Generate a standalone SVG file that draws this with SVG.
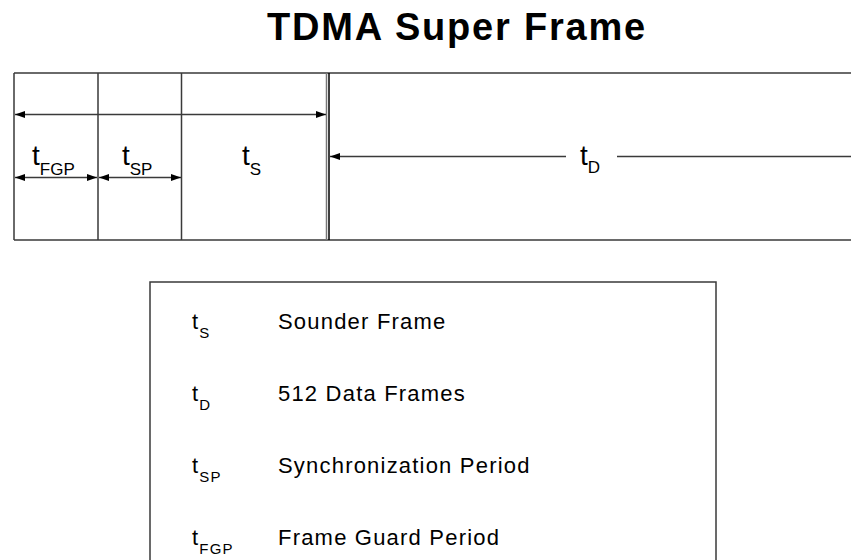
<svg xmlns="http://www.w3.org/2000/svg" width="851" height="560" viewBox="0 0 851 560">
<style>
.ln{stroke:#3a3a3a;stroke-width:1.5;fill:none}
.ar{stroke:#3a3a3a;stroke-width:1.3;fill:none}
.title{font-family:"Liberation Sans",Arial,sans-serif;font-weight:bold;font-size:38px;letter-spacing:1.8px;fill:#000}
.tl{font-family:"Liberation Sans",Arial,sans-serif;font-size:28px;fill:#000}
.ts{font-size:17px}
.lg{font-family:"Liberation Sans",Arial,sans-serif;font-size:22px;letter-spacing:1.2px;fill:#000}
.lgs{font-size:15px}
</style>
<defs>
<marker id="ah" viewBox="0 0 10 7" refX="10" refY="3.5" markerWidth="10" markerHeight="7" markerUnits="userSpaceOnUse" orient="auto-start-reverse">
<path d="M0,0 L10,3.5 L0,7 Z" fill="#000"/>
</marker>
</defs>
<rect width="851" height="560" fill="#fff"/>
<text class="title" x="457" y="40" text-anchor="middle">TDMA Super Frame</text>

<g id="frame">
<path class="ln" d="M14,73 H851 M14,240 H851 M14,73 V240 M98,73 V240 M181.5,73 V240"/>
<path d="M326.5,73 V240" stroke="#777" stroke-width="1.5"/>
<path d="M329,73 V240" stroke="#000" stroke-width="1.5"/>
</g>

<g id="connectors">
<path class="ar" d="M15,114.5 H326" marker-start="url(#ah)" marker-end="url(#ah)"/>
<path class="ar" d="M15,177.5 H97" marker-start="url(#ah)" marker-end="url(#ah)"/>
<path class="ar" d="M99,177.5 H181" marker-start="url(#ah)" marker-end="url(#ah)"/>
<path class="ar" d="M330,156.5 H566" marker-start="url(#ah)"/>
<path class="ar" d="M617,156.5 H851"/>
</g>

<g id="labels">
<text class="tl" x="32" y="165">t<tspan class="ts" dy="10">FGP</tspan></text>
<text class="tl" x="122" y="165">t<tspan class="ts" dy="10">SP</tspan></text>
<text class="tl" x="242" y="165">t<tspan class="ts" dy="10">S</tspan></text>
<text class="tl" x="580" y="165">t<tspan class="ts" dy="8">D</tspan></text>
</g>

<g id="legend">
<rect x="150" y="282" width="566" height="300" class="ln"/>
<text class="lg" x="192" y="329">t<tspan class="lgs" dy="9">S</tspan></text>
<text class="lg" x="278" y="329">Sounder Frame</text>
<text class="lg" x="192" y="401">t<tspan class="lgs" dy="9">D</tspan></text>
<text class="lg" x="278" y="401">512 Data Frames</text>
<text class="lg" x="192" y="473">t<tspan class="lgs" dy="9">SP</tspan></text>
<text class="lg" x="278" y="473">Synchronization Period</text>
<text class="lg" x="192" y="545">t<tspan class="lgs" dy="9">FGP</tspan></text>
<text class="lg" x="278" y="545">Frame Guard Period</text>
</g>
</svg>
